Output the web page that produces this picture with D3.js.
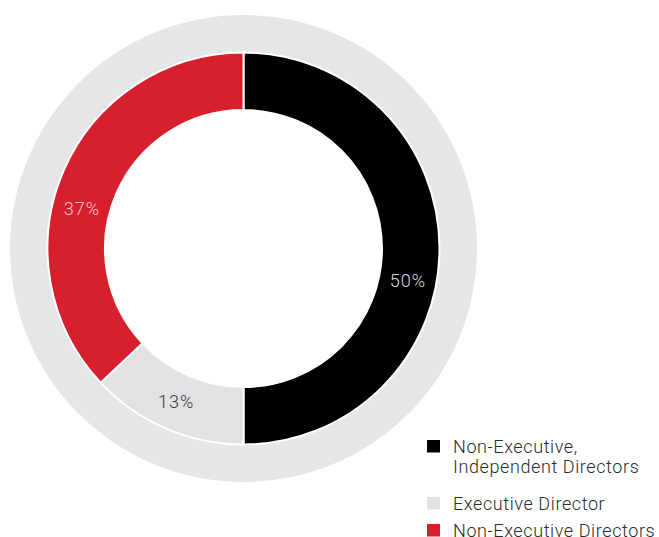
<!DOCTYPE html>
<meta charset="utf-8">
<script src="https://cdn.jsdelivr.net/npm/d3@7"></script>
<style>
body { margin: 0; background: #fff; }
text { font-family: Roboto, "Liberation Sans", sans-serif; font-weight: 300; }
.pct { font-size: 18px; text-anchor: middle; letter-spacing: 1px; }
.legend text { font-size: 18px; fill: #2b2b2b; letter-spacing: 0.6px; }
</style>
<body>
<script>

// board composition
var categories = ["Non-Executive, Independent Directors", "Executive Director", "Non-Executive Directors"];
var values = [50, 13, 37];
var colors = ["#000000", "#e1e2e3", "#d71f2e"];
var labelColors = ["#d9d9d9", "#3a3a3a", "#f3c9cc"];
var legendLines = [["Non-Executive,", "Independent Directors"], ["Executive Director"], ["Non-Executive Directors"]];

var width = 659,
    height = 537;

var cx = 243.5, cy = 248.5;

var svg = d3.select("body").append("svg")
    .attr("width", width)
    .attr("height", height);

var g = svg.append("g")
    .attr("transform", "translate(" + cx + "," + cy + ")");

// outer grey ring
g.append("path")
    .attr("d", d3.arc().innerRadius(195)
      .outerRadius(233.5).startAngle(0).endAngle(2 * Math.PI)())
    .attr("fill", "#e5e6e7");

var pie = d3.pie().sort(null).value(function(d) { return d; });
var arcs = pie(values);

var arc = d3.arc().innerRadius(138.5).outerRadius(196);

g.selectAll("path.slice")
    .data(arcs)
    .enter().append("path")
    .attr("class", "slice")
    .attr("d", arc)
    .attr("fill", function(d, i) { return colors[i]; })
    .attr("stroke", "#fff")
    .attr("stroke-width", 2);

// labels sit a bit off the slice centroids in the original
var labelAngle = [101, 204, 284];
var labelR = 167;
g.selectAll("text.pct")
    .data(arcs)
    .enter().append("text")
    .attr("class", "pct")
    .attr("x", function(d, i) { return labelR * Math.sin(labelAngle[i] * Math.PI / 180) + 0.5; })
    .attr("y", function(d, i) { return -labelR * Math.cos(labelAngle[i] * Math.PI / 180); })
    .attr("dy", "0.36em")
    .attr("fill", function(d, i) { return labelColors[i]; })
    .text(function(d) { return d.data + "%"; });

// legend
var legendTop = [453, 510, 537];
var legend = svg.append("g").attr("class", "legend");
var item = legend.selectAll("g")
    .data(categories)
    .enter().append("g")
    .attr("transform", function(d, i) { return "translate(427," + legendTop[i] + ")"; });

item.append("rect")
    .attr("x", 0)
    .attr("y", -13)
    .attr("width", 13)
    .attr("height", 12.5)
    .attr("fill", function(d, i) { return colors[i]; });

item.append("text")
    .attr("x", 26)
    .selectAll("tspan")
    .data(function(d, i) { return legendLines[i]; })
    .enter().append("tspan")
    .attr("x", 26)
    .attr("dy", function(d, j) { return j ? 20 : 0; })
    .text(function(d) { return d; });

</script>
</body>
